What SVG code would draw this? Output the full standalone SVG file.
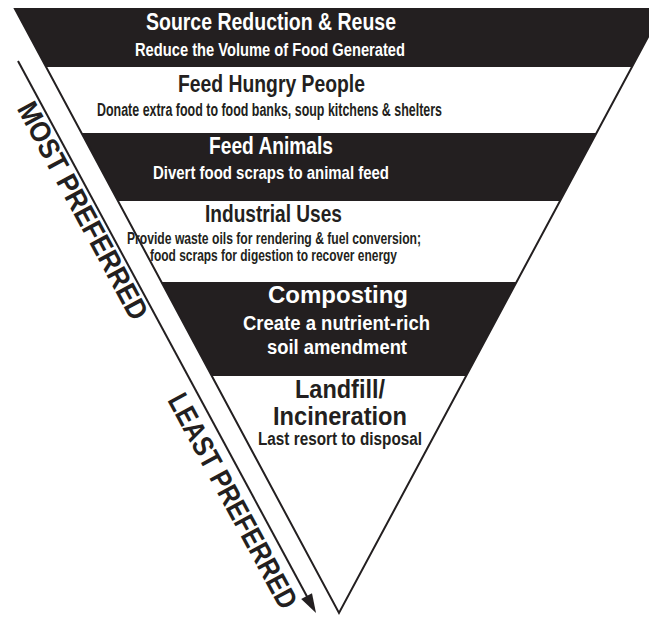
<svg xmlns="http://www.w3.org/2000/svg" width="649" height="618" viewBox="0 0 649 618">
  <style>
    .band { fill: #231f20; }
    .edge { fill: none; stroke: #231f20; stroke-width: 2; stroke-linejoin: miter; }
    .t { font-family: "Liberation Sans", Arial, Helvetica, sans-serif; font-weight: 700; text-anchor: middle; }
    .light { fill: #ffffff; }
    .dark { fill: #231f20; }
    .side { font-family: "Liberation Sans", Arial, Helvetica, sans-serif; font-weight: 700; font-size: 29px; fill: #231f20; }
  </style>
  <defs>
    <clipPath id="tri">
      <polygon points="15,9 663,9 339,613"/>
    </clipPath>
  </defs>
  <rect width="649" height="618" fill="#ffffff"/>

  <!-- dark tiers, cut to the inverted triangle -->
  <g clip-path="url(#tri)">
    <rect class="band" x="0" y="9" width="700" height="58"/>
    <rect class="band" x="0" y="133" width="700" height="68"/>
    <rect class="band" x="0" y="282" width="700" height="94"/>
  </g>

  <!-- triangle outline and preference arrow -->
  <g id="connectors">
    <polygon class="edge" points="15,9 663,9 339,613"/>
    <line x1="18" y1="61" x2="307.4" y2="597.2" stroke="#231f20" stroke-width="2"/>
    <polygon points="316,613 301.2,599.0 312.0,593.2" fill="#231f20"/>
  </g>

  <g id="tier-source-reduction">
    <text class="t light" x="271" y="29.5" font-size="23" textLength="250" lengthAdjust="spacingAndGlyphs">Source Reduction &amp; Reuse</text>
    <text class="t light" x="270" y="56" font-size="19" textLength="270" lengthAdjust="spacingAndGlyphs">Reduce the Volume of Food Generated</text>
  </g>

  <g id="tier-feed-people">
    <text class="t dark" x="271.5" y="91.7" font-size="23" textLength="187" lengthAdjust="spacingAndGlyphs">Feed Hungry People</text>
    <text class="t dark" x="269.5" y="115.7" font-size="17.5" textLength="345" lengthAdjust="spacingAndGlyphs">Donate extra food to food banks, soup kitchens &amp; shelters</text>
  </g>

  <g id="tier-feed-animals">
    <text class="t light" x="271" y="154" font-size="23" textLength="124" lengthAdjust="spacingAndGlyphs">Feed Animals</text>
    <text class="t light" x="271" y="179.3" font-size="18.5" textLength="236" lengthAdjust="spacingAndGlyphs">Divert food scraps to animal feed</text>
  </g>

  <g id="tier-industrial">
    <text class="t dark" x="273.5" y="221.7" font-size="24" textLength="137" lengthAdjust="spacingAndGlyphs">Industrial Uses</text>
    <text class="t dark" x="274" y="244" font-size="16.5" textLength="294" lengthAdjust="spacingAndGlyphs">Provide waste oils for rendering &amp; fuel conversion;</text>
    <text class="t dark" x="273.5" y="260.7" font-size="16.5" textLength="247" lengthAdjust="spacingAndGlyphs">food scraps for digestion to recover energy</text>
  </g>

  <g id="tier-composting">
    <text class="t light" x="338" y="303.3" font-size="24" textLength="140" lengthAdjust="spacingAndGlyphs">Composting</text>
    <text class="t light" x="336.5" y="330" font-size="19.5" textLength="187" lengthAdjust="spacingAndGlyphs">Create a nutrient-rich</text>
    <text class="t light" x="337" y="354" font-size="19.5" textLength="140" lengthAdjust="spacingAndGlyphs">soil amendment</text>
  </g>

  <g id="tier-landfill">
    <text class="t dark" x="340" y="398" font-size="25" textLength="90" lengthAdjust="spacingAndGlyphs">Landfill/</text>
    <text class="t dark" x="340" y="425" font-size="25" textLength="134" lengthAdjust="spacingAndGlyphs">Incineration</text>
    <text class="t dark" x="340" y="445" font-size="18" textLength="164" lengthAdjust="spacingAndGlyphs">Last resort to disposal</text>
  </g>

  <g id="label-most">
    <text class="side" transform="translate(16.4,108.5) rotate(61.6)" textLength="243" lengthAdjust="spacingAndGlyphs">MOST PREFERRED</text>
  </g>
  <g id="label-least">
    <text class="side" transform="translate(167,400) rotate(61.6)" textLength="240" lengthAdjust="spacingAndGlyphs">LEAST PREFERRED</text>
  </g>
</svg>
